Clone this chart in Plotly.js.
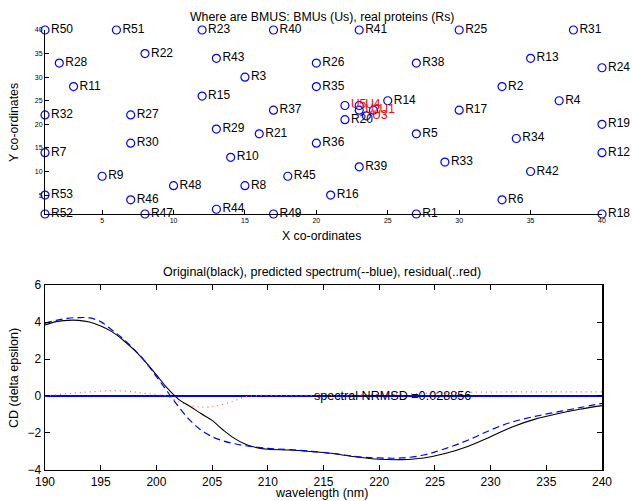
<!DOCTYPE html>
<html>
<head>
<meta charset="utf-8">
<script src="https://cdn.plot.ly/plotly-3.0.1.min.js"></script>
<style>html,body{margin:0;padding:0;background:#fff;}#chart{width:632px;height:501px;}</style>
</head>
<body>
<div id="chart"></div>
<script>
// ---- Top plot: BMU map ----
const rNames = ["R1","R2","R3","R4","R5","R6","R7","R8","R9","R10","R11","R12","R13","R14","R15","R16","R17","R18","R19","R20","R21","R22","R23","R24","R25","R26","R27","R28","R29","R30","R31","R32","R33","R34","R35","R36","R37","R38","R39","R40","R41","R42","R43","R44","R45","R46","R47","R48","R49","R50","R51","R52","R53"];
const rX = [27,33,15,37,27,33,1,15,5,14,3,40,35,25,12,21,30,40,40,22,16,8,12,40,30,20,7,2,13,7,38,1,29,34,20,20,17,27,23,17,23,35,13,13,18,7,8,10,17,1,6,1,1];
const rY = [1,28,30,25,18,4,14,7,9,13,28,14,34,25,26,5,23,1,20,21,18,35,40,32,40,33,22,33,19,16,40,22,12,17,28,16,23,33,11,40,40,10,34,2,9,4,1,7,1,40,40,1,5];
const uNames = ["U1","U2","U3","U4","U5"];
const uX = [24,23,23.5,23,22];
const uY = [23,23,21.8,24,24];
const mapXTicks = [5,10,15,20,25,30,35,40];
const mapYTicks = [5,10,15,20,25,30,35,40];

// ---- Bottom plot: CD spectra ----
const wlOrig = [190,191,192,193,194,195,196,197,198,199,200,201,202,203,204,205,206,207,208,209,210,212,214,216,218,220,222,224,226,228,230,232,234,236,238,240];
const cdOrig = [3.84,4.02,4.09,4.09,4.0,3.78,3.48,3.03,2.49,1.86,1.14,0.41,-0.18,-0.55,-0.95,-1.32,-1.84,-2.29,-2.61,-2.79,-2.88,-2.92,-3.01,-3.12,-3.30,-3.42,-3.44,-3.35,-3.10,-2.72,-2.20,-1.66,-1.25,-0.96,-0.72,-0.52];
const wlPred = [190,191,192,193,194,195,196,197,198,199,200,201,202,203,204,205,206,207,208,210,212,214,216,218,220,222,224,226,228,230,232,234,236,238,240];
const cdPred = [3.93,4.09,4.20,4.24,4.22,4.02,3.57,3.10,2.52,1.86,1.05,0.23,-0.58,-1.30,-1.84,-2.20,-2.43,-2.58,-2.69,-2.83,-2.90,-2.99,-3.12,-3.28,-3.35,-3.35,-3.19,-2.83,-2.38,-1.84,-1.39,-1.10,-0.86,-0.63,-0.40];
const wlRes = [190,192,193,194,196,198,199,200,201,202,203,204,205,206,207,208,209,212,216,220,224,228,232,236,240];
const cdRes = [0.0,0.12,0.18,0.22,0.29,0.22,0.14,0.09,-0.02,-0.31,-0.52,-0.60,-0.58,-0.45,-0.25,-0.05,0.02,0.03,0.05,0.08,0.14,0.20,0.22,0.22,0.22];
const nrmsdText = "spectral NRMSD =0.028856";
const nrmsdPos = [214, 0];

const FONT = "Liberation Sans, Arial, Helvetica, sans-serif";

const traces = [
  {x: rX, y: rY, text: rNames, type: "scatter", mode: "markers+text", xaxis: "x", yaxis: "y",
   textposition: "middle right", cliponaxis: false,
   textfont: {family: FONT, size: 12, color: "#000"},
   marker: {symbol: "circle-open", size: 8, color: "#0000ff", line: {width: 1.2, color: "#0000ff"}},
   hoverinfo: "text"},
  {x: uX, y: uY, text: uNames, type: "scatter", mode: "markers+text", xaxis: "x", yaxis: "y",
   textposition: "middle right", cliponaxis: false,
   textfont: {family: FONT, size: 12, color: "#ff0000"},
   marker: {symbol: "circle-open", size: 8, color: "#0000ff", line: {width: 1.2, color: "#0000ff"}},
   hoverinfo: "text"},
  {x: wlRes, y: cdRes, type: "scatter", mode: "lines", xaxis: "x2", yaxis: "y2",
   line: {color: "rgb(255,90,90)", width: 1.2, dash: "1px,4px", shape: "spline"}},
  {x: wlOrig, y: cdOrig, type: "scatter", mode: "lines", xaxis: "x2", yaxis: "y2",
   line: {color: "#000", width: 1.1, shape: "spline"}},
  {x: wlPred, y: cdPred, type: "scatter", mode: "lines", xaxis: "x2", yaxis: "y2",
   line: {color: "#0000ff", width: 1.2, dash: "7px,4px", shape: "spline"}}
];

const layout = {
  width: 632, height: 501,
  margin: {l: 45, r: 30, t: 0, b: 0, pad: 0},
  paper_bgcolor: "#fff", plot_bgcolor: "#fff",
  showlegend: false,
  font: {family: FONT, color: "#000"},
  xaxis: {domain: [0, 1], anchor: "y", range: [1, 40], tickvals: mapXTicks, ticktext: mapXTicks.map(String),
          ticks: "inside", ticklen: 4, tickcolor: "#000", tickfont: {size: 7, family: FONT},
          showline: true, linecolor: "#000", linewidth: 1, showgrid: false, zeroline: false},
  yaxis: {domain: [0.5729, 0.9401], anchor: "x", range: [1, 40], tickvals: mapYTicks, ticktext: mapYTicks.map(String),
          ticks: "inside", ticklen: 4, tickcolor: "#000", tickfont: {size: 7, family: FONT},
          showline: true, linecolor: "#000", linewidth: 1, showgrid: false, zeroline: false},
  xaxis2: {domain: [0, 1], anchor: "y2", range: [190, 240], tick0: 190, dtick: 5,
           ticks: "inside", ticklen: 5, tickcolor: "#000", tickfont: {size: 12, family: FONT},
           showline: true, mirror: "ticks", linecolor: "#000", linewidth: 1.5, showgrid: false, zeroline: false},
  yaxis2: {domain: [0.0619, 0.4311], anchor: "x2", range: [-4, 6], tick0: -4, dtick: 2,
           ticks: "inside", ticklen: 5, tickcolor: "#000", tickfont: {size: 12, family: FONT},
           showline: true, mirror: "ticks", linecolor: "#000", linewidth: 1.5, showgrid: false,
           zeroline: true, zerolinecolor: "#0000ff", zerolinewidth: 1.5},
  annotations: [
    {text: "Where are BMUS: BMUs (Us), real proteins (Rs)", xref: "paper", yref: "paper", x: 0.497, y: 0.966,
     xanchor: "center", yanchor: "middle", showarrow: false, font: {size: 12.3, family: FONT}},
    {text: "X co-ordinates", xref: "paper", yref: "paper", x: 0.497, y: 0.529,
     xanchor: "center", yanchor: "middle", showarrow: false, font: {size: 12.3, family: FONT}},
    {text: "Y co-ordinates", xref: "paper", yref: "paper", x: -0.0557, y: 0.7565, textangle: -90,
     xanchor: "center", yanchor: "middle", showarrow: false, font: {size: 12.3, family: FONT}},
    {text: "Original(black), predicted spectrum(--blue), residual(..red)", xref: "paper", yref: "paper", x: 0.497, y: 0.457,
     xanchor: "center", yanchor: "middle", showarrow: false, font: {size: 12.5, family: FONT}},
    {text: "wavelength (nm)", xref: "paper", yref: "paper", x: 0.497, y: 0.016,
     xanchor: "center", yanchor: "middle", showarrow: false, font: {size: 12.5, family: FONT}},
    {text: "CD (delta epsilon)", xref: "paper", yref: "paper", x: -0.0557, y: 0.2455, textangle: -90,
     xanchor: "center", yanchor: "middle", showarrow: false, font: {size: 12.5, family: FONT}},
    {text: nrmsdText, xref: "x2", yref: "y2", x: nrmsdPos[0], y: nrmsdPos[1],
     xanchor: "left", yanchor: "middle", showarrow: false, font: {size: 12.6, family: FONT}}
  ]
};

Plotly.newPlot("chart", traces, layout, {staticPlot: true, displayModeBar: false});
</script>
</body>
</html>
